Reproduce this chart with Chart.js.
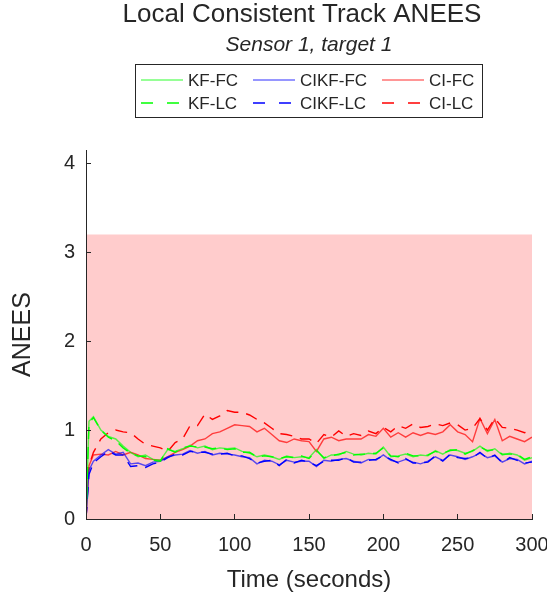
<!DOCTYPE html>
<html>
<head>
<meta charset="utf-8">
<script src="https://cdn.jsdelivr.net/npm/chart.js@4.4.0/dist/chart.umd.min.js"></script>
<style>
    html, body { margin: 0; padding: 0; background: #ffffff; }
</style>
</head>
<body>
<canvas id="grafica" width="547" height="598"></canvas>
<script>
// Tiempos (segundos)
const tiempos = [0, 2, 5, 10, 15, 20, 25, 30, 35, 40, 45, 50, 55, 60, 65, 70, 75, 80, 85, 90, 95, 100,
    105, 110, 115, 120, 125, 130, 135, 140, 145, 150, 155, 160, 165, 170, 175, 180, 185, 190, 195, 200,
    205, 210, 215, 220, 225, 230, 235, 240, 245, 250, 255, 260, 265, 270, 275, 280, 285, 290, 295, 300];

// ANEES por filtro
const kfFC = [0, 1.1, 1.15, 1.0, 0.93, 0.9, 0.82, 0.75, 0.7, 0.72, 0.67, 0.66,
    0.78, 0.76, 0.79, 0.83, 0.8, 0.82, 0.78, 0.8, 0.79, 0.8,
    0.76, 0.74, 0.7, 0.72, 0.7, 0.67, 0.71, 0.69, 0.7, 0.69,
    0.78, 0.68, 0.72, 0.72, 0.76, 0.73, 0.72, 0.74, 0.73, 0.81,
    0.7, 0.71, 0.73, 0.7, 0.72, 0.71, 0.77, 0.73, 0.78, 0.77,
    0.74, 0.76, 0.82, 0.76, 0.79, 0.72, 0.74, 0.72, 0.66, 0.69];
const kfLC = [0, 1.08, 1.14, 1.0, 0.92, 0.88, 0.8, 0.74, 0.71, 0.7, 0.66, 0.65,
    0.79, 0.75, 0.8, 0.82, 0.81, 0.81, 0.79, 0.8, 0.78, 0.79,
    0.75, 0.75, 0.7, 0.71, 0.7, 0.68, 0.7, 0.69, 0.71, 0.68,
    0.77, 0.69, 0.71, 0.73, 0.75, 0.72, 0.73, 0.73, 0.74, 0.8,
    0.71, 0.7, 0.74, 0.71, 0.71, 0.72, 0.76, 0.74, 0.77, 0.78,
    0.73, 0.77, 0.81, 0.77, 0.78, 0.73, 0.73, 0.73, 0.67, 0.7];
const cikfFC = [0, 0.55, 0.65, 0.72, 0.78, 0.73, 0.75, 0.62, 0.63, 0.6, 0.64, 0.65,
    0.7, 0.72, 0.73, 0.77, 0.74, 0.76, 0.72, 0.74, 0.73, 0.72,
    0.7, 0.69, 0.62, 0.66, 0.65, 0.61, 0.66, 0.64, 0.65, 0.65,
    0.59, 0.66, 0.65, 0.67, 0.68, 0.65, 0.63, 0.67, 0.66, 0.72,
    0.66, 0.64, 0.67, 0.64, 0.62, 0.65, 0.7, 0.66, 0.72, 0.7,
    0.67, 0.7, 0.74, 0.69, 0.71, 0.64, 0.68, 0.67, 0.62, 0.65];
const cikfLC = [0, 0.5, 0.63, 0.7, 0.76, 0.72, 0.72, 0.59, 0.6, 0.58, 0.62, 0.64,
    0.69, 0.73, 0.72, 0.76, 0.75, 0.75, 0.73, 0.73, 0.74, 0.71,
    0.71, 0.68, 0.63, 0.65, 0.66, 0.6, 0.67, 0.63, 0.66, 0.64,
    0.6, 0.65, 0.66, 0.66, 0.69, 0.64, 0.64, 0.66, 0.67, 0.71,
    0.67, 0.63, 0.68, 0.63, 0.63, 0.64, 0.71, 0.65, 0.73, 0.69,
    0.68, 0.69, 0.75, 0.68, 0.72, 0.63, 0.69, 0.66, 0.63, 0.64];
const ciFC = [0, 0.6, 0.72, 0.73, 0.72, 0.76, 0.72, 0.75, 0.72, 0.68, 0.67, 0.66,
    0.7, 0.75, 0.78, 0.82, 0.88, 0.9, 0.96, 0.98, 1.02, 1.06,
    1.05, 1.04, 0.98, 1.02, 0.95, 0.88, 0.86, 0.9, 0.88, 0.87,
    0.76, 0.9, 0.92, 0.88, 0.9, 0.9, 0.9, 0.95, 0.93, 1.02,
    0.92, 0.97, 0.92, 0.97, 0.94, 0.97, 0.95, 0.98, 1.06, 0.98,
    0.95, 0.87, 1.13, 0.96, 1.12, 0.88, 0.93, 0.9, 0.87, 0.92];
const ciLC = [0, 0.6, 0.75, 0.9, 0.97, 1.0, 0.98, 0.97, 0.9, 0.84, 0.82, 0.8,
    0.76, 0.86, 0.9, 1.05, 1.05, 1.18, 1.12, 1.16, 1.22, 1.2,
    1.2, 1.17, 1.12, 1.08, 1.02, 0.96, 0.95, 0.93, 0.9, 0.9,
    0.85, 0.95, 0.92, 0.99, 0.93, 0.96, 0.94, 0.99, 0.96, 1.03,
    0.98, 1.05, 1.02, 1.07, 1.03, 1.04, 1.07, 1.05, 1.08, 1.06,
    1.0, 1.02, 1.13, 1.0, 1.13, 1.03, 1.02, 1.0, 0.97, 1.0];

// Región de confianza
const bandaX = [0, 300];
const bandaSup = [3.2, 3.2];

const xTicks = [0, 50, 100, 150, 200, 250, 300];
const yTicks = [0, 1, 2, 3, 4];

const texto = '#262626';
const fuente = '"Liberation Sans", Arial, sans-serif';

function puntos(xs, ys) {
    return xs.map((x, i) => ({ x: x, y: ys[i] }));
}

function serie(label, valores, color, dash) {
    return {
        label: label,
        data: puntos(tiempos, valores),
        borderColor: color,
        borderWidth: 1.4,
        borderDash: dash,
        pointRadius: 0,
        tension: 0,
        fill: false
    };
}

const datasets = [
    serie('KF-FC', kfFC, 'rgba(0,255,0,0.65)', []),
    serie('KF-LC', kfLC, '#00ff00', [12, 8]),
    serie('CIKF-FC', cikfFC, 'rgba(0,0,255,0.65)', []),
    serie('CIKF-LC', cikfLC, '#0000ff', [12, 8]),
    serie('CI-FC', ciFC, 'rgba(255,0,0,0.7)', []),
    serie('CI-LC', ciLC, '#ff0000', [12, 8]),
    {
        label: 'banda',
        data: puntos(bandaX, bandaSup),
        borderWidth: 0,
        borderColor: 'rgba(0,0,0,0)',
        backgroundColor: '#ffcccc',
        pointRadius: 0,
        fill: 'origin'
    }
];

// Título y leyenda
const cabecera = {
    id: 'cabecera',
    afterDraw(chart) {
        const ctx = chart.ctx;
        ctx.save();
        ctx.fillStyle = texto;
        ctx.textAlign = 'center';
        ctx.textBaseline = 'middle';
        ctx.font = '26px ' + fuente;
        ctx.fillText('Local Consistent Track ANEES', 302, 15);
        ctx.font = 'italic 21px ' + fuente;
        ctx.fillText('Sensor 1, target 1', 309, 45);

        // caja de leyenda
        ctx.fillStyle = '#ffffff';
        ctx.fillRect(135.5, 64.5, 347, 53);
        ctx.strokeStyle = texto;
        ctx.lineWidth = 1;
        ctx.strokeRect(135.5, 64.5, 347, 53);

        const columnas = [141, 253, 382];
        const filas = [80, 103];
        const orden = [[0, 2, 4], [1, 3, 5]];
        ctx.font = '17px ' + fuente;
        ctx.textAlign = 'left';
        for (let f = 0; f < 2; f++) {
            for (let c = 0; c < 3; c++) {
                const ds = chart.data.datasets[orden[f][c]];
                const y = filas[f];
                ctx.strokeStyle = ds.borderDash.length ? ds.borderColor : ds.borderColor.replace(/[\d.]+\)$/, '0.55)');
                ctx.lineWidth = 1.5;
                ctx.setLineDash(ds.borderDash.length ? [12, 14] : []);
                ctx.beginPath();
                ctx.moveTo(columnas[c], y);
                ctx.lineTo(columnas[c] + 42, y);
                ctx.stroke();
                ctx.setLineDash([]);
                ctx.fillStyle = texto;
                ctx.fillText(ds.label, columnas[c] + 47, y + 1);
            }
        }
        ctx.restore();
    }
};

new Chart(document.getElementById('grafica'), {
    type: 'line',
    data: { datasets: datasets },
    options: {
        responsive: false,
        animation: false,
        devicePixelRatio: 1,
        layout: { padding: { top: 150, right: 15, left: 0, bottom: 0 } },
        plugins: {
            legend: { display: false },
            tooltip: { enabled: false }
        },
        scales: {
            x: {
                type: 'linear',
                min: 0,
                max: 300,
                afterFit(scale) {
                    scale.height = 79;
                    scale.paddingRight = 0;
                    scale.paddingLeft = 0;
                },
                afterBuildTicks(scale) {
                    scale.ticks = xTicks.map(v => ({ value: v }));
                },
                border: { display: true, color: texto, width: 1, z: 1 },
                grid: { drawOnChartArea: false, tickLength: -5, color: texto, z: 1 },
                ticks: { color: texto, font: { family: fuente, size: 20 }, padding: 19, maxRotation: 0 },
                title: {
                    display: true,
                    text: 'Time (seconds)',
                    color: texto,
                    font: { family: fuente, size: 24 },
                    padding: { top: 0, bottom: 3 }
                }
            },
            y: {
                min: 0,
                max: 4.15,
                afterFit(scale) {
                    scale.width = 86;
                },
                afterBuildTicks(scale) {
                    scale.ticks = yTicks.map(v => ({ value: v }));
                },
                border: { display: true, color: texto, width: 1, z: 1 },
                grid: { drawOnChartArea: false, tickLength: -5, color: texto, z: 1 },
                ticks: { color: texto, font: { family: fuente, size: 20 }, padding: 16 },
                title: {
                    display: true,
                    text: 'ANEES',
                    color: texto,
                    font: { family: fuente, size: 25 },
                    padding: { top: 8, bottom: 0 }
                }
            }
        }
    },
    plugins: [cabecera]
});
</script>
</body>
</html>
